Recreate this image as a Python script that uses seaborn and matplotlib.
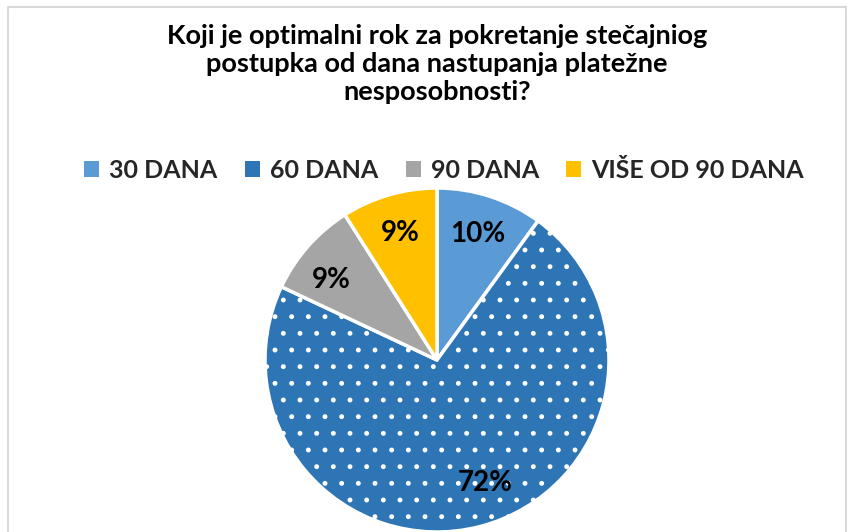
import matplotlib
matplotlib.use("Agg")
import matplotlib.pyplot as plt
import matplotlib.patches as mpatches
import seaborn as sns
import numpy as np

# podaci
kategorije = ["30 DANA", "60 DANA", "90 DANA", "VIŠE OD 90 DANA"]
postotci = [10, 72, 9, 9]
boje = ["#5B9BD5", "#2E75B6", "#A5A5A5", "#FFC000"]
naslov = "Koji je optimalni rok za pokretanje stečajniog\npostupka od dana nastupanja platežne\nnesposobnosti?"

sns.set_theme(style="white")
plt.rcParams["font.family"] = ["Lato", "DejaVu Sans"]
plt.rcParams["hatch.color"] = "white"
plt.rcParams["hatch.linewidth"] = 1.1

paleta = sns.color_palette(boje)

W, H = 847, 532
fig = plt.figure(figsize=(W / 100, H / 100), dpi=100)

# okvir grafikona
fig.patches.append(mpatches.Rectangle((8 / W, -0.01), (W - 9) / W, (H - 7) / H + 0.01,
                                      transform=fig.transFigure, fill=False,
                                      edgecolor="#D9D9D9", linewidth=1.5))

# pita: centar (437, 360), radijus 172 px
cx, cy, r = 437, 360, 172
ax = fig.add_axes([(cx - r) / W, (H - cy - r) / H, 2 * r / W, 2 * r / H])
wedges, _, pct = ax.pie(postotci, colors=paleta, startangle=90, counterclock=False,
                        autopct=lambda p: f"{p:.0f}%", pctdistance=0.77,
                        wedgeprops=dict(edgecolor="white", linewidth=2.5),
                        textprops=dict(fontsize=20, fontweight="bold", color="black"))
wedges[1].set_hatch(".")
ax.set_xlim(-1, 1)
ax.set_ylim(-1, 1)
ax.set_aspect("equal")
ax.axis("off")

# oznake 72% i sive 9% malo zakrenute kao u Excelu
for i, pomak in [(1, 7), (2, 4.5)]:
    w = wedges[i]
    kut = np.deg2rad((w.theta1 + w.theta2) / 2 + pomak)
    pct[i].set_position((0.77 * np.cos(kut), 0.77 * np.sin(kut)))

fig.text(cx / W, 1 - 24 / H, naslov, ha="center", va="top", fontsize=19.5,
         fontweight="bold", color="#000000", linespacing=1.2)

ruke = [mpatches.Patch(facecolor=paleta[i], edgecolor="none", label=k)
        for i, k in enumerate(kategorije)]
fig.legend(handles=ruke, loc="center", bbox_to_anchor=(444 / W, 1 - 170 / H), ncol=4,
           frameon=False, prop=dict(size=18, weight="bold"), handlelength=0.6,
           handleheight=0.6, handletextpad=0.4, columnspacing=1.1)

fig.savefig("out.png", dpi=100, facecolor="white")
